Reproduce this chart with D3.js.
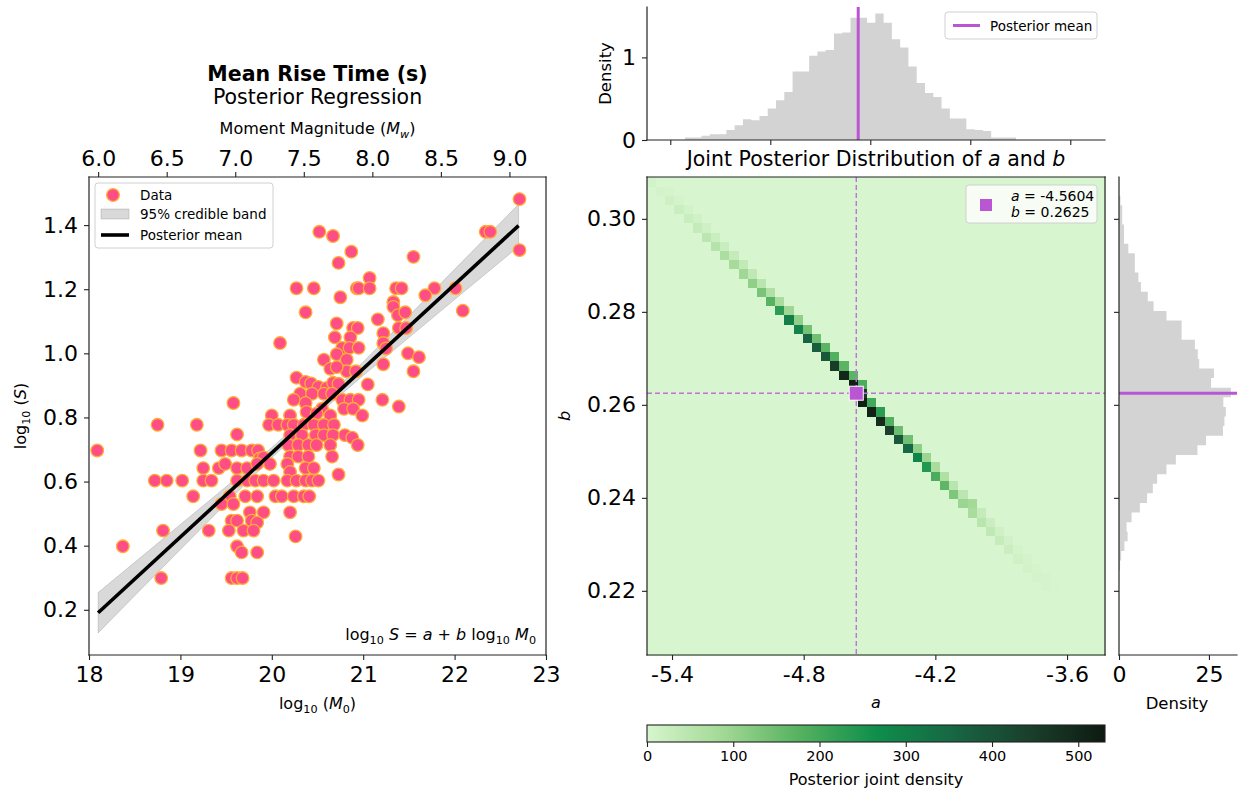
<!DOCTYPE html>
<html>
<head>
<meta charset="utf-8">
<script src="https://cdn.jsdelivr.net/npm/d3@7"></script>
<style>
  body { margin: 0; background: #fff; }
  svg { font-family: "DejaVu Sans", sans-serif; }
</style>
</head>
<body>
<svg id="chart" width="1238" height="793"></svg>
<script>
// ---------------- data ----------------
// [log10 M0, log10 S]
const riseData = [
  [22.71,1.481],[22.34,1.379],[22.39,1.379],[22.71,1.322],[20.52,1.379],[20.67,1.366],[20.87,1.317],[20.73,1.282],[21.55,1.301],[21.07,1.235],
  [20.27,1.203],[20.46,1.203],[20.93,1.203],[20.95,1.203],[21.07,1.203],[21.36,1.203],[21.42,1.203],[21.78,1.203],[22.01,1.203],
  [21.68,1.181],[20.75,1.175],[21.33,1.160],[21.33,1.145],[21.38,1.119],[21.46,1.128],[20.37,1.128],[22.09,1.133],[21.16,1.106],[20.71,1.093],
  [21.39,1.079],[21.47,1.079],[20.89,1.079],[20.94,1.079],[21.22,1.063],[20.69,1.050],[20.86,1.050],[20.09,1.032],[21.22,1.032],[21.25,1.015],
  [20.77,1.017],[20.85,1.017],[20.95,1.017],[20.71,0.997],[20.82,0.980],[21.49,1.000],[21.61,0.988],[20.57,0.980],
  [20.64,0.952],[20.82,0.944],[20.92,0.944],[21.22,0.966],[21.55,0.944],[20.71,0.957],
  [20.27,0.924],[21.05,0.903],[21.21,0.855],[21.39,0.834],[19.58,0.845],
  [20.37,0.911],[20.43,0.906],[20.51,0.895],[20.60,0.892],[20.67,0.908],[20.73,0.905],
  [20.31,0.874],[20.44,0.874],[20.57,0.874],[20.66,0.874],
  [20.24,0.855],[20.77,0.855],[20.86,0.855],[20.95,0.855],
  [20.37,0.845],[20.55,0.827],[20.38,0.817],[20.49,0.812],[20.79,0.827],[20.89,0.827],
  [20.00,0.806],[20.20,0.806],[20.64,0.806],[20.99,0.806],
  [18.75,0.777],[19.18,0.777],[19.97,0.777],[20.07,0.777],[20.17,0.777],[20.24,0.777],[20.35,0.777],[20.46,0.777],[20.57,0.777],[20.68,0.777],
  [19.62,0.747],[20.20,0.745],[20.33,0.745],[20.48,0.745],[20.57,0.745],[20.67,0.745],[20.80,0.745],[20.88,0.737],[20.94,0.714],
  [20.18,0.714],[20.29,0.714],[20.40,0.714],[20.49,0.714],[20.64,0.714],
  [18.09,0.697],[19.22,0.697],[19.45,0.697],[19.56,0.697],[19.67,0.697],[19.78,0.697],[19.85,0.697],
  [20.66,0.678],[20.20,0.678],[20.29,0.678],[20.40,0.678],[19.87,0.672],[19.91,0.675],
  [19.25,0.642],[19.42,0.642],[19.49,0.655],[19.62,0.642],[19.73,0.642],[19.84,0.655],[19.98,0.655],[20.17,0.655],[20.20,0.630],[20.37,0.642],[20.46,0.642],
  [20.73,0.622],
  [18.72,0.603],[18.85,0.603],[19.02,0.603],[19.25,0.603],[19.34,0.603],[19.62,0.603],[19.73,0.603],[19.82,0.603],[19.91,0.603],[20.02,0.603],
  [20.17,0.603],[20.27,0.603],[20.37,0.603],[20.44,0.603],[20.51,0.603],
  [19.14,0.554],[19.54,0.554],[19.71,0.554],[19.84,0.554],[20.04,0.554],[20.11,0.554],[20.24,0.554],[20.35,0.554],[20.41,0.554],[19.45,0.530],[19.58,0.530],
  [19.76,0.504],[19.91,0.504],[20.20,0.504],
  [19.56,0.478],[19.62,0.478],[19.78,0.478],[19.84,0.472],
  [18.81,0.447],[19.31,0.447],[19.53,0.447],[19.69,0.447],[19.80,0.447],
  [20.26,0.429],[19.62,0.398],[18.37,0.398],[19.67,0.379],[19.84,0.379],
  [18.79,0.299],[19.56,0.299],[19.62,0.299],[19.68,0.299]
];

const postA = -4.5604, postB = 0.2625;

// 95% credible band of the regression line
const bandX  = [18.1, 18.5, 19.0, 19.5, 20.0, 20.5, 21.0, 21.5, 22.0, 22.7];
const bandLo = [0.128, 0.244, 0.388, 0.532, 0.674, 0.808, 0.931, 1.049, 1.168, 1.333];
const bandHi = [0.254, 0.348, 0.466, 0.584, 0.706, 0.834, 0.973, 1.117, 1.262, 1.465];

// marginal of a (top), 40 bins
const aHistRange = [-5.4265, -3.7715];
const aHistDensity = [0.03,0.03,0.05,0.07,0.07,0.12,0.18,0.25,0.24,0.29,
  0.38,0.48,0.58,0.83,0.83,1.02,1.07,1.09,1.29,1.30,
  1.48,1.48,1.42,1.53,1.42,1.22,1.12,0.89,0.69,0.57,
  0.52,0.38,0.26,0.26,0.13,0.12,0.11,0.03,0.03,0.03];

// marginal of b (right), 39 bins, low b -> high b
const bHistRange = [0.22445, 0.30498];
const bHistDensity = [0.3,0.6,1.5,2.4,2.1,3.5,5.8,7.8,9.4,10.6,
  13.2,15.8,21.8,24.2,28.9,29.3,29.7,29.0,31.1,25.6,
  26.4,22.3,21.9,21.1,17.4,17.4,13.2,9.6,8.0,6.1,
  5.4,4.4,4.4,2.6,1.4,1.4,0.9,0.9,0.4];

// joint 2D histogram: 50 a-bins x 52 b-bins, only non-zero cells listed
const aGrid = [-5.514, -3.427], nA = 50;
const bGrid = [0.2062, 0.309], nB = 52;
const heatRow   = d3.range(0, 45); // row counted from the top (high b)
const heatCol   = [0,1,2,3,4,5,6,7,8,9,10,11,12,13,14,15,16,17,18,19,20,21,22,22,23,24,25,26,27,28,29,30,31,32,33,34,35,36,37,38,39,40,41,42,43];
const heatMain  = [8,6,15,20,25,30,45,55,70,80,90,110,135,175,230,300,295,360,375,390,450,500,520,470,520,510,490,440,390,350,290,240,190,165,130,95,75,50,40,28,20,12,8,5,3];
const heatRight = [0,3,5,8,12,15,20,25,30,35,40,50,65,75,90,110,140,145,170,180,170,170,190,460,200,230,180,150,145,110,95,75,65,50,45,85,30,20,15,10,6,5,4,3,2];
const densityMax = 531;

const cmapStops = ["#d7f5ce", "#a2d895", "#55b160", "#0e8f4b", "#176744", "#1a3f2c", "#0e1a11"];

// ---------------- helpers ----------------
const svg = d3.select("#chart");
const INK = "#222";
const ORCHID = "#BA55D3";
const TICK_FS = 22;
const fmtTick = d => d.toFixed(1); // hyphen minus, as in the source

function rich(t, parts, fs) {
  let shift = 0;
  parts.forEach(([s, st]) => {
    st = st || "";
    const sub = st.includes("s");
    const target = sub ? fs * 0.25 : 0;
    t.append("tspan")
      .attr("dy", target - shift)
      .style("font-size", (sub ? fs * 0.7 : fs) + "px")
      .style("font-style", st.includes("i") ? "italic" : "normal")
      .text(s);
    shift = target;
  });
  return t;
}

function styleAxis(g, fs) {
  g.select(".domain").remove();
  g.selectAll(".tick line").attr("stroke", INK).attr("stroke-width", 1.1);
  g.selectAll(".tick text").attr("fill", "#000").style("font-size", fs + "px").style("font-family", "DejaVu Sans");
}

function frame(x0, y0, x1, y1, sides) {
  const g = svg.append("g");
  const s = sides || "tlbr";
  if (s.includes("t")) g.append("line").attr("x1", x0).attr("x2", x1).attr("y1", y0).attr("y2", y0);
  if (s.includes("b")) g.append("line").attr("x1", x0).attr("x2", x1).attr("y1", y1).attr("y2", y1);
  if (s.includes("l")) g.append("line").attr("x1", x0).attr("x2", x0).attr("y1", y0).attr("y2", y1);
  if (s.includes("r")) g.append("line").attr("x1", x1).attr("x2", x1).attr("y1", y0).attr("y2", y1);
  g.selectAll("line").attr("stroke", INK).attr("stroke-width", 1.2).attr("stroke-linecap", "square");
}

// histogram outline: one point per bin edge, last bin value repeated
function histSteps(range, values) {
  const w = (range[1] - range[0]) / values.length;
  return d3.range(values.length + 1).map(i => ({e: range[0] + i * w, v: values[Math.min(i, values.length - 1)]}));
}

// ================= LEFT PANEL: regression =================
const L = {x0: 89, x1: 546, y0: 177, y1: 655};
const xL = d3.scaleLinear().domain([18, 23]).range([L.x0, L.x1]);
const yL = d3.scaleLinear().domain([0.059, 1.55]).range([L.y1, L.y0]);
// moment magnitude: Mw = (log10 M0 - 9.1) / 1.5
const xMw = d3.scaleLinear().domain([(18 - 9.1) / 1.5, (23 - 9.1) / 1.5]).range([L.x0, L.x1]);

const band = d3.area()
  .x((d, i) => xL(bandX[i]))
  .y0((d, i) => yL(bandLo[i]))
  .y1((d, i) => yL(bandHi[i]));
svg.append("path").datum(bandX).attr("d", band)
  .attr("fill", "#808080").attr("fill-opacity", 0.3)
  .attr("stroke", "#808080").attr("stroke-opacity", 0.3);

svg.append("g").selectAll("circle").data(riseData).join("circle")
  .attr("cx", d => xL(d[0])).attr("cy", d => yL(d[1])).attr("r", 6.3)
  .attr("fill", "#ff4d86").attr("stroke", "#ffad33").attr("stroke-width", 1.3);

const lineEnds = [18.1, 22.7];
svg.append("path").datum(lineEnds)
  .attr("d", d3.line().x(d => xL(d)).y(d => yL(postA + postB * d)))
  .attr("stroke", "#000").attr("stroke-width", 3.6).attr("fill", "none");

frame(L.x0, L.y0, L.x1, L.y1);

svg.append("g").attr("transform", `translate(0,${L.y1})`)
  .call(d3.axisBottom(xL).tickValues(d3.range(18, 24)).tickFormat(d3.format("d")).tickSize(5).tickPadding(6))
  .call(g => styleAxis(g, TICK_FS));
svg.append("g").attr("transform", `translate(${L.x0},0)`)
  .call(d3.axisLeft(yL).tickValues([0.2, 0.4, 0.6, 0.8, 1.0, 1.2, 1.4]).tickFormat(fmtTick).tickSize(5).tickPadding(6))
  .call(g => styleAxis(g, TICK_FS));
svg.append("g").attr("transform", `translate(0,${L.y0})`)
  .call(d3.axisTop(xMw).tickValues([6, 6.5, 7, 7.5, 8, 8.5, 9]).tickFormat(fmtTick).tickSize(5).tickPadding(6))
  .call(g => styleAxis(g, TICK_FS));

const lx = (L.x0 + L.x1) / 2;
svg.append("text").attr("x", lx).attr("y", 81).attr("text-anchor", "middle")
  .style("font-size", "20.5px").style("font-weight", "bold").text("Mean Rise Time (s)");
svg.append("text").attr("x", lx).attr("y", 104).attr("text-anchor", "middle")
  .style("font-size", "20.5px").text("Posterior Regression");
rich(svg.append("text").attr("x", lx).attr("y", 134).attr("text-anchor", "middle"),
  [["Moment Magnitude (", ""], ["M", "i"], ["w", "si"], [")", ""]], 16);
rich(svg.append("text").attr("x", lx).attr("y", 709).attr("text-anchor", "middle"),
  [["log", ""], ["10", "s"], [" (", ""], ["M", "i"], ["0", "s"], [")", ""]], 16);
rich(svg.append("text").attr("transform", `translate(26,${(L.y0 + L.y1) / 2}) rotate(-90)`).attr("text-anchor", "middle"),
  [["log", ""], ["10", "s"], [" (", ""], ["S", "i"], [")", ""]], 16);

// formula
rich(svg.append("text").attr("x", 536).attr("y", 640).attr("text-anchor", "end"),
  [["log", ""], ["10", "s"], [" ", ""], ["S", "i"], [" = ", ""], ["a", "i"], ["  + ", ""], ["b", "i"], [" log", ""], ["10", "s"], [" ", ""], ["M", "i"], ["0", "s"]], 16);

// legend
const lg = svg.append("g").attr("transform", "translate(95,183)");
lg.append("rect").attr("width", 178).attr("height", 65).attr("rx", 3)
  .attr("fill", "#fff").attr("fill-opacity", 0.8).attr("stroke", "#d0d0d0");
lg.append("circle").attr("cx", 18).attr("cy", 12).attr("r", 6.3)
  .attr("fill", "#ff4d86").attr("stroke", "#ffad33").attr("stroke-width", 1.3);
lg.append("rect").attr("x", 6).attr("y", 26).attr("width", 28).attr("height", 10)
  .attr("fill", "#808080").attr("fill-opacity", 0.3).attr("stroke", "#808080").attr("stroke-opacity", 0.3);
lg.append("line").attr("x1", 6).attr("x2", 34).attr("y1", 52).attr("y2", 52).attr("stroke", "#000").attr("stroke-width", 3.6);
[["Data", 17], ["95% credible band", 36], ["Posterior mean", 57]].forEach(([t, y]) =>
  lg.append("text").attr("x", 45).attr("y", y).style("font-size", "13.5px").text(t));

// ================= RIGHT: joint posterior heatmap =================
const H = {x0: 647, x1: 1105, y0: 177, y1: 655};
const xH = d3.scaleLinear().domain(aGrid).range([H.x0, H.x1]);
const yH = d3.scaleLinear().domain(bGrid).range([H.y1, H.y0]);
const color = d3.scaleLinear()
  .domain(cmapStops.map((c, i) => i * densityMax / (cmapStops.length - 1)))
  .range(cmapStops).interpolate(d3.interpolateRgb).clamp(true);

const aStep = (aGrid[1] - aGrid[0]) / nA, bStep = (bGrid[1] - bGrid[0]) / nB;
const grid = [];
for (let i = 0; i < nA; i++) for (let j = 0; j < nB; j++) grid.push({i, j, v: 0});
const cellAt = (i, j) => grid[i * nB + j];
heatRow.forEach((r, k) => {
  const j = nB - 1 - r;
  cellAt(heatCol[k], j).v = heatMain[k];
  if (heatCol[k] + 1 < nA) cellAt(heatCol[k] + 1, j).v = heatRight[k];
});

svg.append("g").attr("shape-rendering", "crispEdges").selectAll("rect").data(grid).join("rect")
  .attr("x", d => xH(aGrid[0] + d.i * aStep))
  .attr("y", d => yH(bGrid[0] + (d.j + 1) * bStep))
  .attr("width", d => xH(aGrid[0] + (d.i + 1) * aStep) - xH(aGrid[0] + d.i * aStep) + 0.5)
  .attr("height", d => yH(bGrid[0] + d.j * bStep) - yH(bGrid[0] + (d.j + 1) * bStep) + 0.5)
  .attr("fill", d => color(d.v));

// posterior mean cross-hairs
svg.append("line").attr("x1", xH(postA)).attr("x2", xH(postA)).attr("y1", H.y0).attr("y2", H.y1)
  .attr("stroke", "#c46fdc").attr("stroke-width", 1.4).attr("stroke-dasharray", "5,3");
svg.append("line").attr("x1", H.x0).attr("x2", H.x1).attr("y1", yH(postB)).attr("y2", yH(postB))
  .attr("stroke", "#c46fdc").attr("stroke-width", 1.4).attr("stroke-dasharray", "5,3");
svg.append("rect").attr("x", xH(postA) - 7).attr("y", yH(postB) - 7).attr("width", 14).attr("height", 14)
  .attr("fill", ORCHID).attr("stroke", "#fff").attr("stroke-width", 1);

frame(H.x0, H.y0, H.x1, H.y1);
svg.append("g").attr("transform", `translate(0,${H.y1})`)
  .call(d3.axisBottom(xH).tickValues([-5.4, -4.8, -4.2, -3.6]).tickFormat(fmtTick).tickSize(5).tickPadding(6))
  .call(g => styleAxis(g, TICK_FS));
svg.append("g").attr("transform", `translate(${H.x0},0)`)
  .call(d3.axisLeft(yH).tickValues([0.22, 0.24, 0.26, 0.28, 0.30]).tickFormat(d => d.toFixed(2)).tickSize(5).tickPadding(6))
  .call(g => styleAxis(g, TICK_FS));

svg.append("text").attr("x", (H.x0 + H.x1) / 2).attr("y", 708).attr("text-anchor", "middle")
  .style("font-size", "16px").style("font-style", "italic").text("a");
svg.append("text").attr("transform", `translate(570,${(H.y0 + H.y1) / 2}) rotate(-90)`).attr("text-anchor", "middle")
  .style("font-size", "16px").style("font-style", "italic").text("b");
rich(svg.append("text").attr("x", (H.x0 + H.x1) / 2).attr("y", 166).attr("text-anchor", "middle"),
  [["Joint Posterior Distribution of ", ""], ["a", "i"], [" and ", ""], ["b", "i"]], 20.5);

// heatmap legend
const hl = svg.append("g").attr("transform", "translate(966,185)");
hl.append("rect").attr("width", 131).attr("height", 38).attr("rx", 3)
  .attr("fill", "#fff").attr("fill-opacity", 0.8).attr("stroke", "#d0d0d0");
hl.append("rect").attr("x", 14).attr("y", 14).attr("width", 12).attr("height", 12).attr("fill", ORCHID);
rich(hl.append("text").attr("x", 45).attr("y", 16), [["a", "i"], [" = -4.5604", ""]], 14);
rich(hl.append("text").attr("x", 45).attr("y", 32), [["b", "i"], [" = 0.2625", ""]], 14);

// ================= TOP: marginal of a =================
const T = {x0: 647, x1: 1105, y0: 7, y1: 140};
const xT = d3.scaleLinear().domain([-5.6165, -3.3265]).range([T.x0, T.x1]);
const yT = d3.scaleLinear().domain([0, 1.61]).range([T.y1, T.y0]);
svg.append("path").datum(histSteps(aHistRange, aHistDensity))
  .attr("d", d3.area().curve(d3.curveStepAfter).x(d => xT(d.e)).y0(yT(0)).y1(d => yT(d.v)))
  .attr("fill", "#d3d3d3");
svg.append("line").attr("x1", xT(postA)).attr("x2", xT(postA)).attr("y1", T.y0).attr("y2", T.y1)
  .attr("stroke", ORCHID).attr("stroke-width", 3);
frame(T.x0, T.y0, T.x1, T.y1, "lb");
svg.append("g").attr("transform", `translate(0,${T.y1})`)
  .call(d3.axisBottom(xT).tickValues([-5.5, -5, -4.5, -4, -3.5]).tickFormat("").tickSize(5))
  .call(g => styleAxis(g, TICK_FS));
svg.append("g").attr("transform", `translate(${T.x0},0)`)
  .call(d3.axisLeft(yT).tickValues([0, 1]).tickFormat(d3.format("d")).tickSize(5).tickPadding(6))
  .call(g => styleAxis(g, TICK_FS));
svg.append("text").attr("transform", `translate(611,${(T.y0 + T.y1) / 2}) rotate(-90)`).attr("text-anchor", "middle")
  .style("font-size", "16.5px").text("Density");
const tl = svg.append("g").attr("transform", "translate(945,12)");
tl.append("rect").attr("width", 152).attr("height", 27).attr("rx", 3)
  .attr("fill", "#fff").attr("fill-opacity", 0.8).attr("stroke", "#d0d0d0");
tl.append("line").attr("x1", 8).attr("x2", 35).attr("y1", 13.5).attr("y2", 13.5).attr("stroke", ORCHID).attr("stroke-width", 3);
tl.append("text").attr("x", 45).attr("y", 18.5).style("font-size", "13.5px").text("Posterior mean");

// ================= RIGHT: marginal of b =================
const R = {x0: 1119, x1: 1237, y0: 177, y1: 655};
const xR = d3.scaleLinear().domain([0, 32.8]).range([R.x0, R.x1]);
svg.append("path").datum(histSteps(bHistRange, bHistDensity))
  .attr("d", d3.area().curve(d3.curveStepBefore).y(d => yH(d.e)).x0(xR(0)).x1(d => xR(d.v)))
  .attr("fill", "#d3d3d3");
svg.append("line").attr("x1", R.x0).attr("x2", R.x1).attr("y1", yH(postB)).attr("y2", yH(postB))
  .attr("stroke", ORCHID).attr("stroke-width", 3);
frame(R.x0, R.y0, R.x1, R.y1, "lb");
svg.append("g").attr("transform", `translate(0,${R.y1})`)
  .call(d3.axisBottom(xR).tickValues([0, 25]).tickFormat(d3.format("d")).tickSize(5).tickPadding(6))
  .call(g => styleAxis(g, TICK_FS));
svg.append("g").attr("transform", `translate(${R.x0},0)`)
  .call(d3.axisLeft(yH).tickValues([0.22, 0.24, 0.26, 0.28, 0.30]).tickFormat("").tickSize(5))
  .call(g => styleAxis(g, TICK_FS));
svg.append("text").attr("x", (R.x0 + R.x1) / 2 - 1).attr("y", 709).attr("text-anchor", "middle")
  .style("font-size", "16.5px").text("Density");

// ================= colorbar =================
const C = {x0: 647, x1: 1105, y0: 725, y1: 742};
const xC = d3.scaleLinear().domain([0, densityMax]).range([C.x0, C.x1]);
const grad = svg.append("defs").append("linearGradient").attr("id", "cbar");
d3.range(0, 1.0001, 0.02).forEach(t =>
  grad.append("stop").attr("offset", t).attr("stop-color", color(t * densityMax)));
svg.append("rect").attr("x", C.x0).attr("y", C.y0).attr("width", C.x1 - C.x0).attr("height", C.y1 - C.y0)
  .attr("fill", "url(#cbar)").attr("stroke", INK).attr("stroke-width", 1.1);
svg.append("g").attr("transform", `translate(0,${C.y1})`)
  .call(d3.axisBottom(xC).tickValues([0, 100, 200, 300, 400, 500]).tickFormat(d3.format("d")).tickSize(5).tickPadding(4))
  .call(g => styleAxis(g, 14.5));
svg.append("text").attr("x", (C.x0 + C.x1) / 2).attr("y", 785).attr("text-anchor", "middle")
  .style("font-size", "16px").text("Posterior joint density");
</script>
</body>
</html>
